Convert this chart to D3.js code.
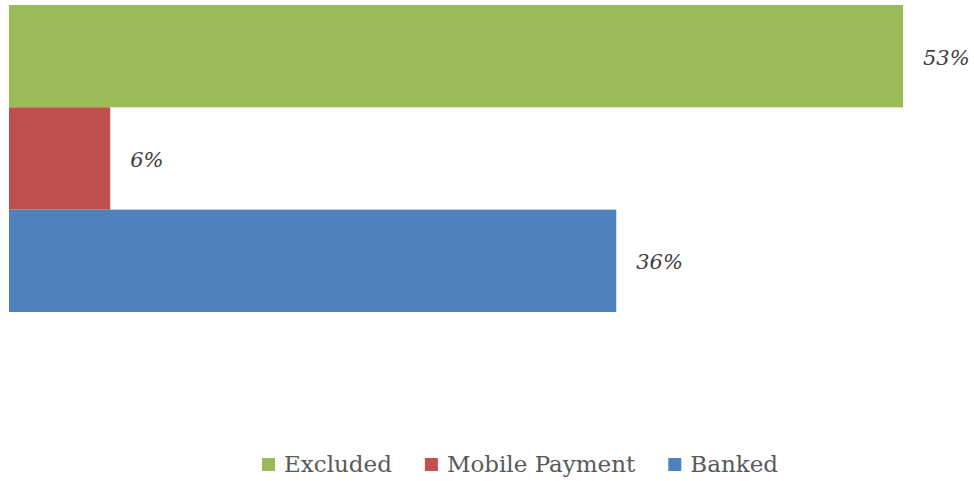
<!DOCTYPE html>
<html>
<head>
<meta charset="utf-8">
<script src="https://cdn.jsdelivr.net/npm/d3@7"></script>
<style>
  body { margin: 0; background: #fff; }
  svg { display: block; }
</style>
</head>
<body>
<svg id="chart"></svg>
<script>
const categories = ['Excluded', 'Mobile Payment', 'Banked'];
const values = [53, 6, 36];
const colors = ['#9bbb59', '#c0504d', '#4f81bd'];

const width = 974, height = 481;
const margin = {top: 5, left: 9};

const svg = d3.select('#chart')
    .attr('width', width)
    .attr('height', height);

const xscale = d3.scaleLinear()
    .domain([0, 53])
    .range([0, 894]);

const yscale = d3.scaleBand()
    .domain(categories)
    .range([margin.top, 312])
    .padding(0);

const chart = svg.append('g')
    .attr('transform', `translate(${margin.left}, 0)`);

chart.selectAll('rect')
    .data(categories)
    .join('rect')
    .attr('x', 0)
    .attr('y', d => yscale(d))
    .attr('width', (d, i) => xscale(values[i]))
    .attr('height', yscale.bandwidth())
    .attr('fill', (d, i) => colors[i]);

chart.selectAll('text.lbl')
    .data(categories)
    .join('text')
    .attr('class', 'lbl')
    .attr('x', (d, i) => xscale(values[i]) + 20)
    .attr('y', d => yscale(d) + yscale.bandwidth() / 2 + 1)
    .attr('dy', '0.35em')
    .attr('font-family', 'DejaVu Serif')
    .attr('font-style', 'italic')
    .attr('font-size', '21px')
    .attr('fill', '#404040')
    .text((d, i) => values[i] + '%');

// legend, laid out by measured text widths
const legend = svg.append('g');
const items = legend.selectAll('g')
    .data(categories)
    .join('g');

items.append('rect')
    .attr('width', 13)
    .attr('height', 13)
    .attr('y', -14)
    .attr('fill', (d, i) => colors[i]);

items.append('text')
    .attr('x', 22)
    .attr('font-family', 'DejaVu Serif')
    .attr('font-size', '23px')
    .attr('fill', '#595959')
    .text(d => d);

let x = 0;
items.each(function() {
    const w = 22 + this.querySelector('text').getComputedTextLength();
    d3.select(this).attr('transform', `translate(${x}, 0)`);
    x += w + 33;
});
const total = x - 33;
// legend sits right of centre, centred near x = 520
legend.attr('transform', `translate(${520 - total / 2}, 472)`);
</script>
</body>
</html>
